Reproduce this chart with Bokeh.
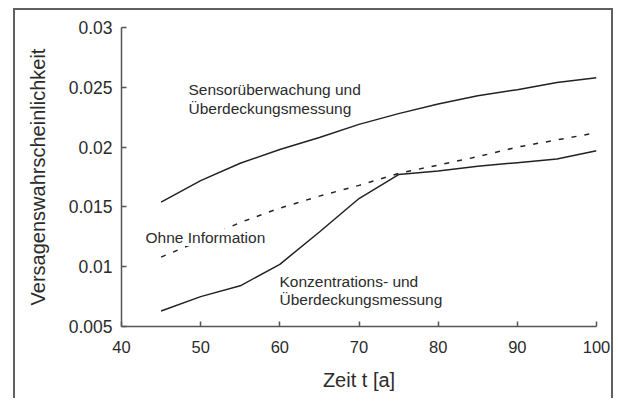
from bokeh.plotting import figure
from bokeh.models import Range1d, FixedTicker, Label
from bokeh.embed import file_html
from bokeh.resources import INLINE

# ---- data ----
zeit = [45, 50, 55, 60, 65, 70, 75, 80, 85, 90, 95, 100]
sensor = [0.0154, 0.0172, 0.01865, 0.0198, 0.0208, 0.0219, 0.0228, 0.0236, 0.0243, 0.0248, 0.0254, 0.0258]
ohne = [0.0108, 0.0122, 0.0137, 0.0149, 0.0159, 0.0168, 0.0178, 0.0185, 0.0192, 0.0200, 0.0206, 0.0212]
konz = [0.0063, 0.0075, 0.0084, 0.0102, 0.0129, 0.0157, 0.0177, 0.0180, 0.0184, 0.0187, 0.0190, 0.0197]

x_ticks = [40, 50, 60, 70, 80, 90, 100]
y_ticks = [0.005, 0.01, 0.015, 0.02, 0.025, 0.03]
y_tick_labels = ["0.005", "0.01", "0.015", "0.02", "0.025", "0.03"]

x_title = "Zeit t [a]"
y_title = "Versagenswahrscheinlichkeit"

FONT = "Liberation Sans"
TXT = "#2b2b2b"
AX = "#555555"

p = figure(width=600, height=390, output_backend="svg", toolbar_location=None,
           x_range=Range1d(40, 100), y_range=Range1d(0.005, 0.03),
           min_border_left=106, min_border_right=19, min_border_top=17, min_border_bottom=74,
           background_fill_color="white", border_fill_color="white",
           margin=(8, 0, 0, 13))
p.styles = {"border-top": "2px solid #606060", "border-left": "2px solid #606060",
            "border-right": "2px solid #606060"}
p.outline_line_color = None
p.grid.visible = False

p.line(zeit, sensor, line_color="#222222", line_width=1.5)
p.line(zeit, ohne, line_color="#222222", line_width=1.5, line_dash="5 8")
p.line(zeit, konz, line_color="#222222", line_width=1.5)

for ax in (p.xaxis[0], p.yaxis[0]):
    ax.axis_line_color = AX
    ax.axis_line_width = 1.5
    ax.major_tick_line_color = AX
    ax.major_tick_line_width = 1.5
    ax.major_tick_in = 5
    ax.major_tick_out = 0
    ax.minor_tick_line_color = None
    ax.major_label_text_font = FONT
    ax.major_label_text_color = TXT
    ax.axis_label_text_font = FONT
    ax.axis_label_text_font_size = "20px"
    ax.axis_label_text_font_style = "normal"
    ax.axis_label_text_color = TXT

p.xaxis.major_label_text_font_size = "16.5px"
p.yaxis.major_label_text_font_size = "17.5px"
p.xaxis.ticker = FixedTicker(ticks=x_ticks)
p.yaxis.ticker = FixedTicker(ticks=y_ticks)
p.yaxis.major_label_overrides = dict(zip(y_ticks, y_tick_labels))
p.xaxis.axis_label = x_title
p.yaxis.axis_label = y_title
p.xaxis.major_label_standoff = 14
p.yaxis.major_label_standoff = 9
p.xaxis.axis_label_standoff = 13
p.yaxis.axis_label_standoff = 17

def lab(x, y, t):
    p.add_layout(Label(x=x, y=y, text=t, text_font=FONT, text_font_size="15.5px",
                       text_color=TXT, text_align="left", text_baseline="middle",
                       background_fill_color="white"))

lab(48.46, 0.02482, "Sensorüberwachung und")
lab(48.46, 0.02323, "Überdeckungsmessung")
lab(43.03, 0.01244, "Ohne Information")
lab(59.96, 0.00876, "Konzentrations- und")
lab(59.96, 0.00726, "Überdeckungsmessung")

open("out.html", "w").write(file_html(p, INLINE))
